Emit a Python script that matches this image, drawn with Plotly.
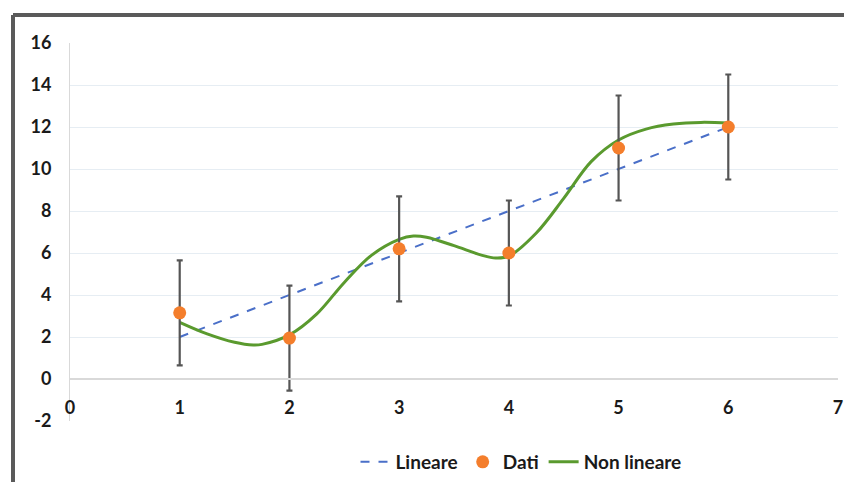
import plotly.graph_objects as go

# Data
x_dati = [1, 2, 3, 4, 5, 6]
y_dati = [3.15, 1.95, 6.2, 6.0, 11.0, 12.0]
err_dati = [2.5, 2.5, 2.5, 2.5, 2.5, 2.5]

x_lin = [1, 2, 3, 4, 5, 6]
y_lin = [2, 4, 6, 8, 10, 12]

x_nl = [1.0, 1.25, 1.5, 1.67, 1.75, 2.0, 2.25, 2.5, 2.75, 3.0, 3.13, 3.25, 3.5,
        3.75, 3.88, 4.0, 4.25, 4.5, 4.75, 5.0, 5.25, 5.5, 5.75, 6.0]
y_nl = [2.7, 2.15, 1.75, 1.62, 1.65, 2.1, 3.1, 4.6, 5.9, 6.65, 6.81, 6.75, 6.35,
        5.9, 5.76, 5.85, 6.95, 8.6, 10.35, 11.38, 11.9, 12.14, 12.22, 12.19]

x_ticks = [0, 1, 2, 3, 4, 5, 6, 7]
y_ticks = [-2, 0, 2, 4, 6, 8, 10, 12, 14, 16]

FONT = "Lato"

fig = go.Figure()
fig.add_trace(go.Scatter(
    x=x_lin, y=y_lin, mode="lines", name="Lineare", legendrank=1,
    line=dict(color="#4a6fc8", width=2, dash="dash"),
))
fig.add_trace(go.Scatter(
    x=x_nl, y=y_nl, mode="lines", name="Non lineare", legendrank=3,
    line=dict(color="#5a9a2e", width=3, shape="spline", smoothing=1.0),
))
fig.add_trace(go.Scatter(
    x=x_dati, y=y_dati, mode="markers", name="Dati", legendrank=2,
    marker=dict(color="#f47e2c", size=13, line=dict(width=0)),
    error_y=dict(type="data", array=err_dati, visible=True,
                 color="#555555", thickness=2.2, width=3),
))

# the page adds an 8px body margin, so the figure is drawn 8px in and down
OFF = 8
W, H = 852 - OFF, 482 - OFF
# screen-pixel targets of the reference
SL, SR, ST, SB = 70, 838, 43, 421
ML, MR, MT, MB = SL - OFF, W - (SR - OFF), ST - OFF, 0
pw = W - ML - MR
ph = H - MT - MB           # paper height (extends to figure bottom)
y_dom0 = (H - MB - (SB - OFF)) / ph

def px(xpix):
    return (xpix - OFF - ML) / pw

def py(ypix):
    return (H - MB - (ypix - OFF)) / ph

shapes = [
    dict(type="line", xref="paper", yref="paper",
         x0=px(13), x1=px(870), y0=py(15), y1=py(15),
         line=dict(color="#5a5a5a", width=4)),
    dict(type="line", xref="paper", yref="paper",
         x0=px(13), x1=px(13), y0=py(15), y1=py(500),
         line=dict(color="#5a5a5a", width=4)),
]

fig.update_layout(
    width=W, height=H,
    margin=dict(l=ML, r=MR, t=MT, b=MB),
    paper_bgcolor="white", plot_bgcolor="white",
    font=dict(family=FONT, size=18, color="#1a1a1a"),
    shapes=shapes,
    showlegend=True,
    legend=dict(orientation="h", x=px(521), xanchor="center",
                y=py(462), yanchor="middle",
                font=dict(family=FONT, size=19, color="#1a1a1a", weight="bold"),
                bgcolor="rgba(0,0,0,0)", itemwidth=30),
    xaxis=dict(
        range=[0, 7], tickvals=x_ticks, ticktext=[str(v) for v in x_ticks],
        anchor="free", position=y_dom0 + (1 - y_dom0) * 2 / 18,
        showgrid=False, zeroline=False, automargin=False,
        showline=True, linecolor="#d9d9d9", linewidth=2,
        ticks="outside", ticklen=12, tickcolor="rgba(0,0,0,0)",
        tickfont=dict(family=FONT, size=18, color="#1a1a1a", weight="bold"),
    ),
    yaxis=dict(
        range=[-2, 16], tickvals=y_ticks, ticktext=[str(v) for v in y_ticks],
        domain=[y_dom0, 1], automargin=False,
        showgrid=True, gridcolor="#e6edf3", gridwidth=1,
        zeroline=False,
        showline=True, linecolor="#d9d9d9", linewidth=1,
        ticks="outside", ticklen=14, tickcolor="rgba(0,0,0,0)",
        tickfont=dict(family=FONT, size=18, color="#1a1a1a", weight="bold"),
    ),
)

fig.write_html("out.html")
